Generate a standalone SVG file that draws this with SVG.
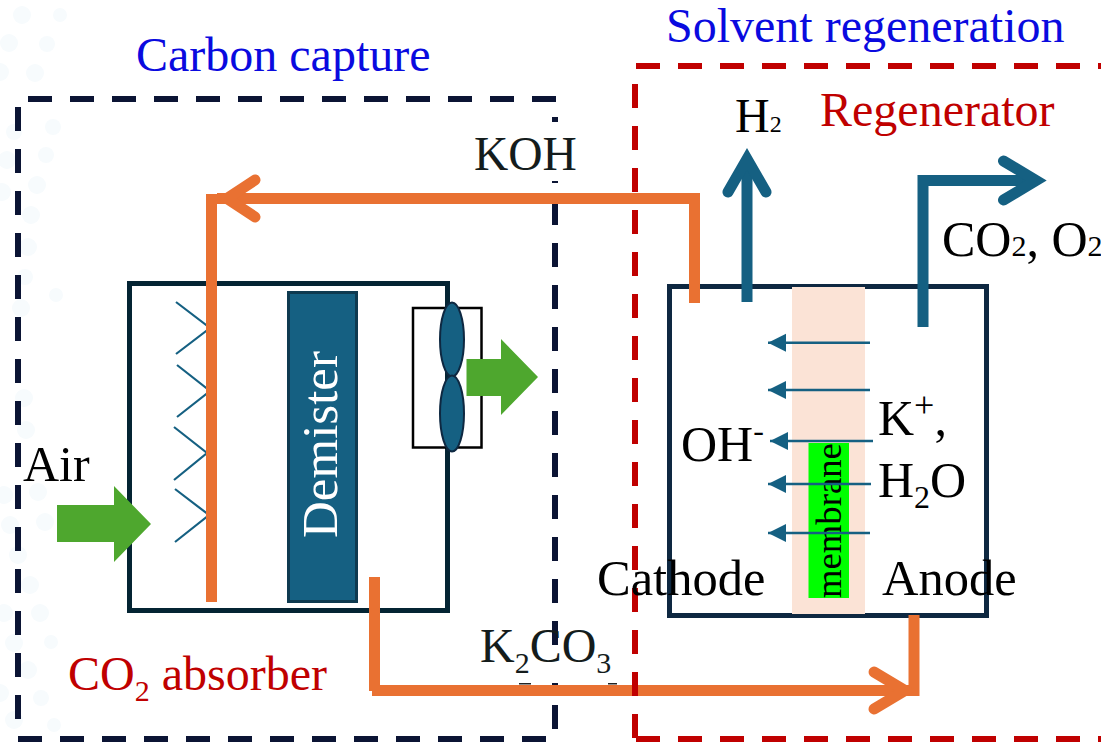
<svg xmlns="http://www.w3.org/2000/svg" width="1101" height="743" viewBox="0 0 1101 743">
<style>
text{font-family:"Liberation Serif","Times New Roman",serif;font-size:48px;fill:#000}
.blue{fill:#0a0adf}.red{fill:#c00000}.dark{fill:#141c1c}
.navy{fill:none;stroke:#0b1434;stroke-width:6;stroke-dasharray:24 18}
.crim{fill:none;stroke:#c00000;stroke-width:6;stroke-dasharray:24 18}
.or{fill:none;stroke:#e97132;stroke-width:11}
.orh{fill:none;stroke:#e97132;stroke-width:11;stroke-linecap:round;stroke-linejoin:miter}
.tl{fill:none;stroke:#156082;stroke-width:11}
.tlh{fill:none;stroke:#156082;stroke-width:11;stroke-linecap:round;stroke-linejoin:miter}
.chev{fill:none;stroke:#156082;stroke-width:2.2}
.thin{stroke:#156082;stroke-width:2.6;marker-start:url(#ah)}
.grn{fill:#4ea72e}
.blade{fill:#156082;stroke:#0e2841;stroke-width:2}
.dots circle{fill:#f7fbfd}
</style>
<defs>
<marker id="ah" markerUnits="userSpaceOnUse" markerWidth="20" markerHeight="20" refX="1" refY="9" orient="auto" viewBox="0 0 20 18"><path d="M19 0V18L1 9Z" fill="#156082"/></marker>
</defs>
<rect width="1101" height="743" fill="#fff"/>
<g class="dots">
<circle cx="22" cy="15" r="9"/><circle cx="60" cy="15" r="7"/><circle cx="9" cy="43" r="9"/><circle cx="47" cy="44" r="8"/><circle cx="0" cy="72" r="9"/><circle cx="35" cy="73" r="9"/><circle cx="14" cy="132" r="8"/><circle cx="53" cy="127" r="8"/><circle cx="7" cy="160" r="9"/><circle cx="46" cy="155" r="8"/><circle cx="2" cy="192" r="9"/><circle cx="37" cy="185" r="9"/><circle cx="31" cy="215" r="9"/><circle cx="28" cy="247" r="9"/><circle cx="25" cy="277" r="8"/><circle cx="21" cy="308" r="9"/><circle cx="56" cy="295" r="7"/><circle cx="24" cy="398" r="9"/><circle cx="26" cy="430" r="9"/><circle cx="4" cy="495" r="9"/><circle cx="38" cy="492" r="9"/><circle cx="10" cy="525" r="9"/><circle cx="45" cy="522" r="9"/><circle cx="18" cy="555" r="9"/><circle cx="30" cy="585" r="9"/><circle cx="4" cy="613" r="9"/><circle cx="40" cy="613" r="9"/><circle cx="14" cy="643" r="9"/><circle cx="51" cy="642" r="7"/><circle cx="28" cy="670" r="9"/><circle cx="0" cy="693" r="9"/><circle cx="41" cy="698" r="8"/><circle cx="14" cy="720" r="9"/><circle cx="54" cy="725" r="7"/>
</g>
<g id="region-carbon-capture">
<path class="navy" d="M28 99H556"/>
<path class="navy" d="M18 107V720"/>
<path class="navy" d="M18 739H556"/>
<path class="navy" d="M555 99V739" stroke-dashoffset="-18"/>
<rect x="470" y="122" width="108" height="59" fill="#fff"/>
<rect x="478" y="645" width="140" height="38" fill="#fff"/>
<rect x="519" y="683" width="12" height="1.5" fill="#222"/>
<rect x="608" y="683" width="9" height="1.5" fill="#222"/>
</g>
<g id="region-solvent-regeneration">
<path class="crim" d="M636 66H1101"/>
<path class="crim" d="M635 66V739" stroke-dashoffset="-18"/>
<path class="crim" d="M636 739H1101"/>
</g>
<g id="absorber">
<rect x="129.500" y="283.500" width="318" height="327" fill="none" stroke="#042433" stroke-width="5"/>
</g>
<g id="regenerator">
<rect x="669.500" y="286.500" width="317" height="329" fill="none" stroke="#0e2841" stroke-width="5"/>
</g>
<rect id="membrane-band" x="792" y="287" width="73" height="327" fill="#fbe3d6"/>
<g id="membrane">
<rect x="808.500" y="443" width="40.500" height="155" fill="#00ff00"/>
<text transform="translate(841 598) rotate(-90)" style="font-size:36.700px">membrane</text>
</g>
<g id="demister">
<rect x="288.500" y="292.500" width="68" height="309" fill="#156082" stroke="#0e3a50" stroke-width="3"/>
<text transform="translate(337 538) rotate(-90)" style="font-size:51px;fill:#fff">Demister</text>
</g>
<g id="fan">
<rect x="413" y="308" width="68.500" height="139.500" fill="none" stroke="#000" stroke-width="2.500"/>
<ellipse class="blade" cx="452" cy="339.500" rx="12" ry="37"/>
<ellipse class="blade" cx="452" cy="413.500" rx="12" ry="38"/>
</g>
<g id="packing">
<path class="chev" d="M176 302L210 328L176 354"/>
<path class="chev" d="M177 365L210 391L177 417"/>
<path class="chev" d="M174 427L207 453L174 480"/>
<path class="chev" d="M175 489L209 515L175 542"/>
</g>
<g id="connectors">
<path class="or" d="M211.500 602V194"/>
<path class="or" d="M217 198.500H700"/>
<path class="or" d="M694.500 193V303"/>
<path class="orh" d="M255 180L227 198.500L255 217"/>
<path class="or" d="M374.500 577V691"/>
<path class="or" d="M372 690.500H910"/>
<rect x="632" y="685" width="6" height="11" fill="#c00000"/>
<path class="or" d="M914 615V696"/>
<path class="orh" d="M874 672L905 690.500L874 709"/>
<path class="tl" d="M747 302V165"/>
<path class="tlh" d="M728 192L747 159L766 192"/>
<path class="tl" d="M923 327V180.500H1030"/>
<path class="tlh" d="M1003.500 161L1036 180.500L1003.500 200"/>
<line class="thin" x1="768" y1="342.700" x2="870" y2="342.700"/>
<line class="thin" x1="768" y1="390" x2="870" y2="390"/>
<line class="thin" x1="770" y1="441" x2="873" y2="441"/>
<line class="thin" x1="768" y1="484" x2="871" y2="484"/>
<line class="thin" x1="768" y1="533" x2="870" y2="533"/>
</g>
<g id="air-in"><path class="grn" d="M57 505H114V486L151 524L114 562V542H57Z"/></g>
<g id="air-out"><path class="grn" d="M466.500 359H501V339L538 377L501 415V396H466.500Z"/></g>
<g id="labels">
<text class="blue" x="136" y="71">Carbon capture</text>
<text class="blue" x="666" y="42">Solvent regeneration</text>
<text class="dark" x="474" y="170" style="font-size:47.500px">KOH</text>
<text x="735" y="132">H<tspan style="font-size:24px">2</tspan></text>
<text class="red" x="820" y="126">Regenerator</text>
<text x="942" y="256" style="font-size:50px">CO<tspan style="font-size:30px">2</tspan>, O<tspan style="font-size:30px">2</tspan></text>
<text x="23" y="481" style="font-size:50px">Air</text>
<text class="red" x="68" y="690">CO<tspan dy="11" style="font-size:30px">2</tspan><tspan dy="-11"> absorber</tspan></text>
<text class="dark" x="480" y="662">K<tspan dy="11" style="font-size:30px">2</tspan><tspan dy="-11">CO</tspan><tspan dy="11" style="font-size:30px">3</tspan></text>
<text x="681" y="461" style="font-size:50px">OH<tspan dy="-20" style="font-size:32px">-</tspan></text>
<text x="878" y="435" style="font-size:50px">K<tspan dy="-18" style="font-size:36px">+</tspan><tspan dy="18">,</tspan></text>
<text x="878" y="497" style="font-size:50px">H<tspan dy="11" style="font-size:32px">2</tspan><tspan dy="-11">O</tspan></text>
<text x="597" y="595" style="font-size:50.500px">Cathode</text>
<text x="882" y="595" style="font-size:50.500px">Anode</text>
</g>
</svg>
